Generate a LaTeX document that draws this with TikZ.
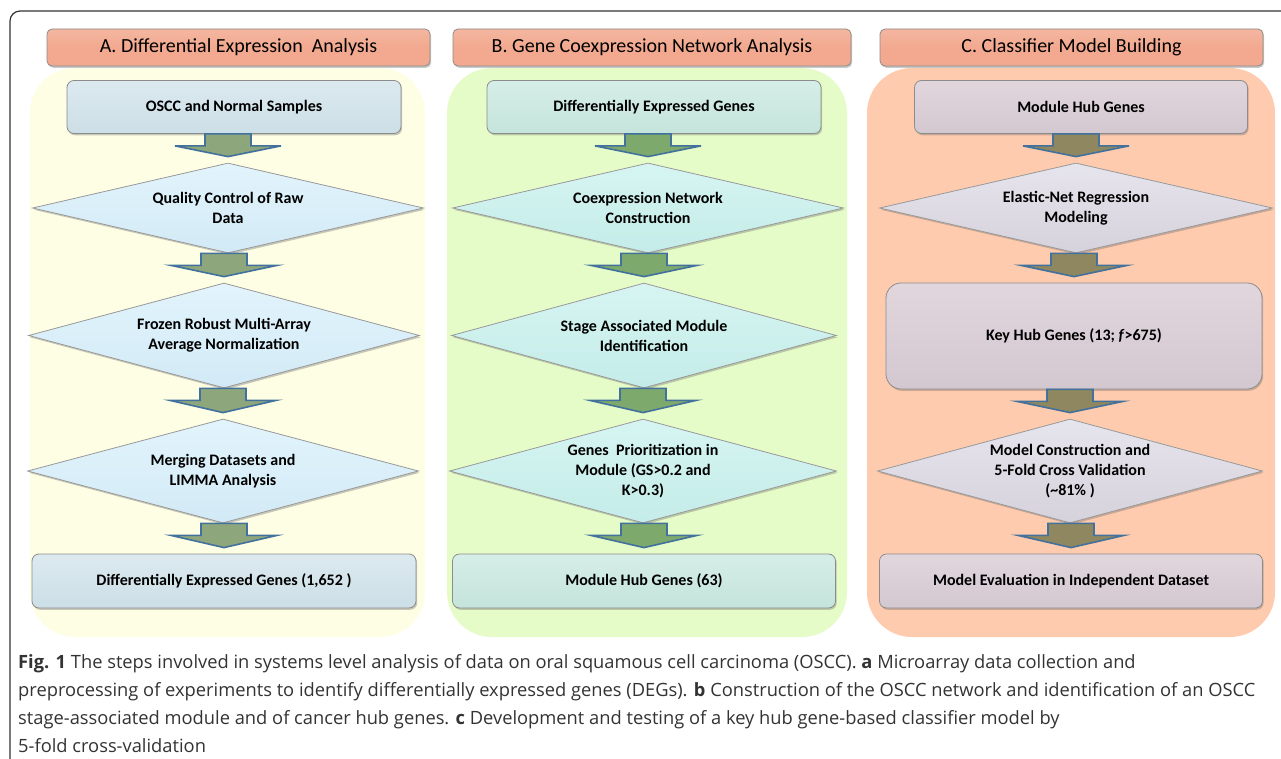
\documentclass[tikz,border=0pt]{standalone}
\usepackage{fontspec}
\setmainfont{Carlito}
\newfontfamily\capfont{Open Sans}
\usetikzlibrary{shapes.geometric,calc,shadows}

\definecolor{hdsalmon}{HTML}{F2A98F}
\definecolor{panA}{HTML}{FEFEE4}
\definecolor{panB}{HTML}{E6FCC8}
\definecolor{panC}{HTML}{FFCBAE}
\definecolor{arrblue}{HTML}{41719C}
\definecolor{arrA}{HTML}{8DA67B}
\definecolor{arrB}{HTML}{7EA96C}
\definecolor{arrC}{HTML}{8E875F}

% block arrow from the bottom of #1 to just above #2
\newcommand{\fatarrow}[3]{%
  \draw[fatarr, fill=#3] let \p1=(#1.south), \p2=(#2.north) in
    (\x2-23pt,\y1) -- (\x2-23pt,\y1-12pt) -- (\x2-53pt,\y1-12pt) -- (\x2,\y2+6pt)
    -- (\x2+53pt,\y1-12pt) -- (\x2+23pt,\y1-12pt) -- (\x2+23pt,\y1) -- cycle;}

\begin{document}
\begin{tikzpicture}[x=1pt, y=-1pt,
    shd/.style={drop shadow={shadow xshift=1.2pt, shadow yshift=-1.8pt, opacity=0.35, fill=black!60}},
    head/.style={draw=black!45, rounded corners=5pt, top color=hdsalmon!85!white, bottom color=hdsalmon, middle color=hdsalmon, minimum height=37pt, font=\fontsize{20}{23}\selectfont, line width=0.8pt, shd},
    box/.style={draw=black!45, rounded corners=7pt, minimum height=53pt, align=center, font=\bfseries\fontsize{16}{20}\selectfont, line width=0.8pt, shd},
    boxA/.style={box, top color={rgb,255:red,220;green,234;blue,240}, bottom color={rgb,255:red,204;green,222;blue,230}},
    boxB/.style={box, top color={rgb,255:red,214;green,238;blue,232}, bottom color={rgb,255:red,196;green,228;blue,219}},
    boxC/.style={box, top color={rgb,255:red,224;green,214;blue,220}, bottom color={rgb,255:red,212;green,200;blue,208}},
    dia/.style={diamond, inner sep=0pt, draw=black!40, line width=0.8pt, minimum width=391pt, shd},
    diaA/.style={dia, top color={rgb,255:red,226;green,244;blue,252}, bottom color={rgb,255:red,210;green,234;blue,246}},
    diaB/.style={dia, top color={rgb,255:red,214;green,245;blue,242}, bottom color={rgb,255:red,196;green,236;blue,232}},
    diaC/.style={dia, top color={rgb,255:red,230;green,228;blue,236}, bottom color={rgb,255:red,214;green,210;blue,220}},
    dtxt/.style={align=center, font=\bfseries\fontsize{16}{20}\selectfont},
    fatarr/.style={draw=arrblue, line width=1.6pt, line join=miter},
]
\useasboundingbox (0,0) rectangle (1281,759);
\fill[white] (0,0) rectangle (1281,759);

\draw[black!80, line width=1.2pt, rounded corners=10pt] (10,770) |- (1290,11);

\fill[panA, rounded corners=45pt] (30,68) rectangle (425,637);
\fill[panB, rounded corners=45pt] (447,68) rectangle (847,637);
\fill[panC, rounded corners=45pt] (867,68) rectangle (1275,637);

\node[head, minimum width=383pt] (hA) at (238.5,47.5) {A. Differential Expression \ Analysis};
\node[head, minimum width=398pt] (hB) at (652,47.5) {B. Gene Coexpression Network Analysis};
\node[head, minimum width=383pt] (hC) at (1071.5,47.5) {C. Classifier Model Building};

\node[boxA, minimum width=334pt] (samples) at (234,107) {OSCC and Normal Samples};
\node[diaA, minimum height=90pt, label={[dtxt]center:{Quality Control of Raw\\Data}}] (qc) at (228,208) {};
\node[diaA, minimum height=105pt, label={[dtxt]center:{Frozen Robust Multi-Array\\Average Normalization}}] (frma) at (224,335.5) {};
\node[diaA, minimum height=104pt, label={[dtxt]center:{Merging Datasets and\\LIMMA Analysis}}] (limma) at (223,471) {};
\node[boxA, minimum width=384pt, minimum height=54pt] (degs) at (224,581) {Differentially Expressed Genes (1,652 )};

\node[boxB, minimum width=334pt] (degin) at (654,107) {Differentially Expressed Genes};
\node[diaB, minimum height=90pt, label={[dtxt]center:{Coexpression Network\\Construction}}] (coexp) at (648,208) {};
\node[diaB, minimum height=105pt, minimum width=385pt, label={[dtxt]center:{Stage Associated Module\\Identification}}] (stage) at (644,335.5) {};
\node[diaB, minimum height=104pt, minimum width=387pt, label={[dtxt]center:{Genes \ Prioritization in\\Module (GS>0.2 and\\K>0.3)}}] (prio) at (643,471) {};
\node[boxB, minimum width=383pt, minimum height=54pt] (hubs) at (644,581) {Module Hub Genes (63)};

\node[boxC, minimum width=333pt] (hubin) at (1081,107) {Module Hub Genes};
\node[diaC, minimum height=90pt, minimum width=393pt, label={[dtxt]center:{Elastic-Net Regression\\Modeling}}] (enet) at (1076,208) {};
\node[boxC, rounded corners=15pt, minimum width=376pt, minimum height=106pt] (keyhub) at (1074,336) {Key Hub Genes (13; \textit{f}>675)};
\node[diaC, minimum height=104pt, minimum width=385pt, label={[dtxt]center:{Model Construction and\\5-Fold Cross Validation\\(\textasciitilde81\% )}}] (cv) at (1070,471) {};
\node[boxC, minimum width=383pt, minimum height=54pt] (indep) at (1071,581) {Model Evaluation in Independent Dataset};

\fatarrow{samples}{qc}{arrA}
\fatarrow{qc}{frma}{arrA}
\fatarrow{frma}{limma}{arrA}
\fatarrow{limma}{degs}{arrA}
\fatarrow{degin}{coexp}{arrB}
\fatarrow{coexp}{stage}{arrB}
\fatarrow{stage}{prio}{arrB}
\fatarrow{prio}{hubs}{arrB}
\fatarrow{hubin}{enet}{arrC}
\fatarrow{enet}{keyhub}{arrC}
\fatarrow{keyhub}{cv}{arrC}
\fatarrow{cv}{indep}{arrC}

\node[anchor=north west, align=left, inner sep=0pt, text=black!80, font=\capfont\fontsize{18.3}{28}\selectfont] (caption) at (18,654)
  {\textbf{Fig. 1} The steps involved in systems level analysis of data on oral squamous cell carcinoma (OSCC). \textbf{a} Microarray data collection and\\
   preprocessing of experiments to identify differentially expressed genes (DEGs). \textbf{b} Construction of the OSCC network and identification of an OSCC\\
   stage-associated module and of cancer hub genes. \textbf{c} Development and testing of a key hub gene-based classifier model by\\
   5-fold cross-validation};
\end{tikzpicture}
\end{document}
